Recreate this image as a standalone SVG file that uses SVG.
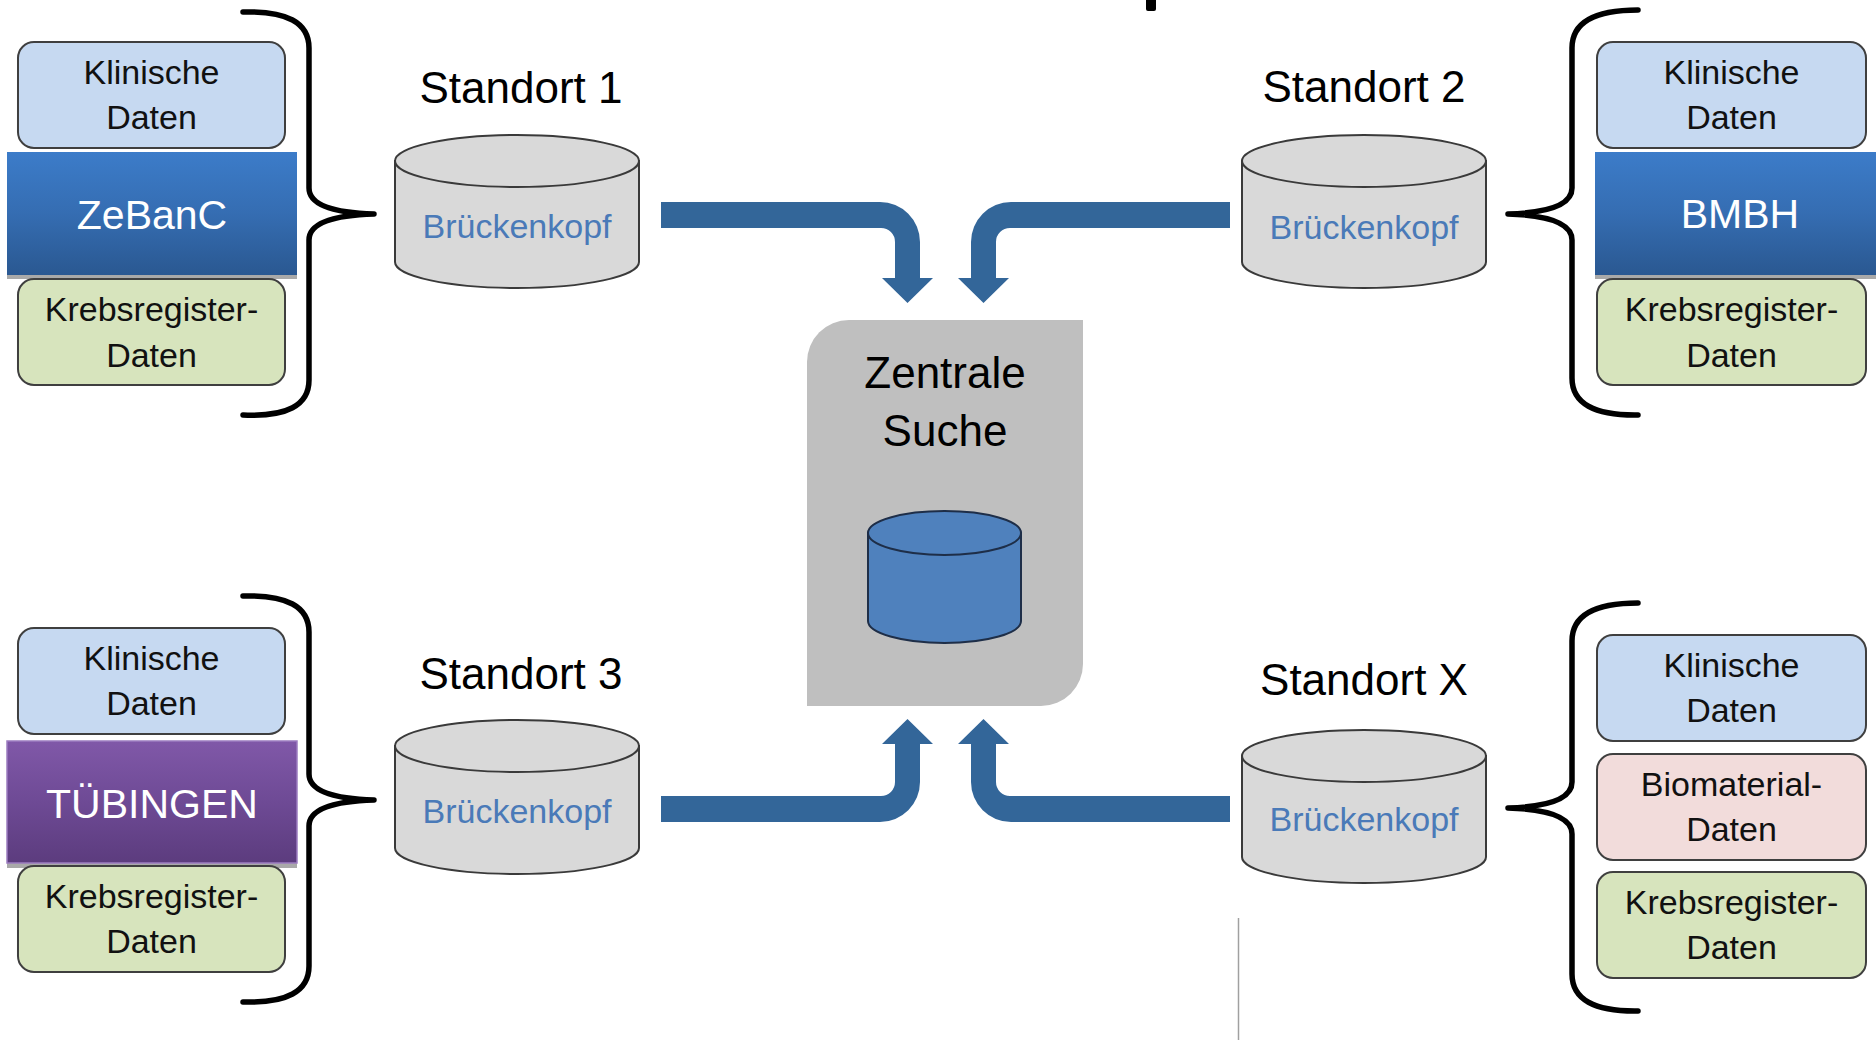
<svg xmlns="http://www.w3.org/2000/svg" width="1876" height="1040" viewBox="0 0 1876 1040">
<defs>
<linearGradient id="gBlue" x1="0" y1="0" x2="0" y2="1">
<stop offset="0" stop-color="#3c7cc9"/>
<stop offset="0.5" stop-color="#356db2"/>
<stop offset="1" stop-color="#2a5891"/>
</linearGradient>
<linearGradient id="gPurple" x1="0" y1="0" x2="0" y2="1">
<stop offset="0" stop-color="#8058a8"/>
<stop offset="0.5" stop-color="#6e4a95"/>
<stop offset="1" stop-color="#5c3c7e"/>
</linearGradient>
<style>
text{font-family:"Liberation Sans",Arial,sans-serif;text-anchor:middle}
.box{stroke:#3f3f3f;stroke-width:2}
.klin{fill:#c6d9f1}
.krebs{fill:#d7e4bd}
.bio{fill:#f2dcdb}
.lbl{font-size:34px;fill:#111}
.ban{font-size:41px;fill:#fff}
.site{font-size:44px;fill:#000}
.bk{font-size:34px;fill:#4a7ab8}
.cyl{fill:#d9d9d9;stroke:#3a3a3a;stroke-width:2}
.brace{fill:none;stroke:#000;stroke-width:5.5;stroke-linecap:round;stroke-linejoin:round}
.arrow{fill:#336699}
.shadow{fill:#a9a9a9}
</style>
</defs>
<rect width="1876" height="1040" fill="#fff"/>

<!-- top black mark -->
<rect x="1146" y="-4" width="10" height="15" rx="2" fill="#000"/>
<line x1="1238.5" y1="918" x2="1238.5" y2="1040" stroke="#a0a0a0" stroke-width="1.5"/>

<!-- Group ZeBanC -->
<g id="zebanc">
<rect class="box klin" x="18" y="42" width="267" height="106" rx="16"/>
<text class="lbl" x="151.5" y="84">Klinische</text>
<text class="lbl" x="151.5" y="129">Daten</text>
<rect class="shadow" x="7" y="155" width="290" height="124"/>
<rect x="7" y="152" width="290" height="123" fill="url(#gBlue)"/>
<text class="ban" x="152" y="229">ZeBanC</text>
<rect class="box krebs" x="18" y="279" width="267" height="106" rx="16"/>
<text class="lbl" x="151.5" y="321">Krebsregister-</text>
<text class="lbl" x="151.5" y="367">Daten</text>
<path class="brace" d="M243,12 Q309,10 309,48 L309,188 Q309,212 374,214 Q309,216 309,240 L309,380 Q309,418 243,415"/>
</g>

<!-- Group BMBH -->
<g id="bmbh">
<rect class="box klin" x="1597" y="42" width="269" height="106" rx="16"/>
<text class="lbl" x="1731.5" y="84">Klinische</text>
<text class="lbl" x="1731.5" y="129">Daten</text>
<rect class="shadow" x="1595" y="155" width="281" height="124"/>
<rect x="1595" y="152" width="281" height="123" fill="url(#gBlue)"/>
<text class="ban" x="1740" y="228">BMBH</text>
<rect class="box krebs" x="1597" y="279" width="269" height="106" rx="16"/>
<text class="lbl" x="1731.5" y="321">Krebsregister-</text>
<text class="lbl" x="1731.5" y="367">Daten</text>
<path class="brace" d="M1638,10 Q1572,10 1572,48 L1572,188 Q1572,212 1508,214 Q1572,216 1572,240 L1572,378 Q1572,416 1638,415"/>
</g>

<!-- Group Tuebingen -->
<g id="tuebingen">
<rect class="box klin" x="18" y="628" width="267" height="106" rx="16"/>
<text class="lbl" x="151.5" y="670">Klinische</text>
<text class="lbl" x="151.5" y="715">Daten</text>
<rect class="shadow" x="7" y="744" width="290" height="124"/>
<rect x="7" y="741" width="290" height="122" fill="url(#gPurple)" stroke="#9c7cc0" stroke-width="1.5"/>
<text class="ban" x="152" y="818">TÜBINGEN</text>
<rect class="box krebs" x="18" y="866" width="267" height="106" rx="16"/>
<text class="lbl" x="151.5" y="908">Krebsregister-</text>
<text class="lbl" x="151.5" y="953">Daten</text>
<path class="brace" d="M243,596 Q309,594 309,632 L309,774 Q309,798 374,800 Q309,802 309,826 L309,966 Q309,1004 243,1002"/>
</g>

<!-- Group Standort X data -->
<g id="standortx-data">
<rect class="box klin" x="1597" y="635" width="269" height="106" rx="16"/>
<text class="lbl" x="1731.5" y="677">Klinische</text>
<text class="lbl" x="1731.5" y="722">Daten</text>
<rect class="box bio" x="1597" y="754" width="269" height="106" rx="16"/>
<text class="lbl" x="1731.5" y="796">Biomaterial-</text>
<text class="lbl" x="1731.5" y="841">Daten</text>
<rect class="box krebs" x="1597" y="872" width="269" height="106" rx="16"/>
<text class="lbl" x="1731.5" y="914">Krebsregister-</text>
<text class="lbl" x="1731.5" y="959">Daten</text>
<path class="brace" d="M1638,603 Q1572,603 1572,641 L1572,782 Q1572,806 1508,808 Q1572,810 1572,834 L1572,974 Q1572,1012 1638,1011"/>
</g>

<!-- Standort 1 -->
<g id="standort1">
<text class="site" x="521" y="103">Standort 1</text>
<path class="cyl" d="M395,161 V262 A122,26 0 0 0 639,262 V161 Z"/>
<ellipse class="cyl" cx="517" cy="161" rx="122" ry="26"/>
<text class="bk" x="517" y="238">Brückenkopf</text>
</g>

<!-- Standort 2 -->
<g id="standort2">
<text class="site" x="1364" y="102">Standort 2</text>
<path class="cyl" d="M1242,161 V262 A122,26 0 0 0 1486,262 V161 Z"/>
<ellipse class="cyl" cx="1364" cy="161" rx="122" ry="26"/>
<text class="bk" x="1364" y="239">Brückenkopf</text>
</g>

<!-- Standort 3 -->
<g id="standort3">
<text class="site" x="521" y="689">Standort 3</text>
<path class="cyl" d="M395,746 V848 A122,26 0 0 0 639,848 V746 Z"/>
<ellipse class="cyl" cx="517" cy="746" rx="122" ry="26"/>
<text class="bk" x="517" y="823">Brückenkopf</text>
</g>

<!-- Standort X -->
<g id="standortx">
<text class="site" x="1364" y="695">Standort X</text>
<path class="cyl" d="M1242,756 V857 A122,26 0 0 0 1486,857 V756 Z"/>
<ellipse class="cyl" cx="1364" cy="756" rx="122" ry="26"/>
<text class="bk" x="1364" y="831">Brückenkopf</text>
</g>

<!-- Zentrale Suche -->
<g id="zentrale">
<path d="M849,320 H1083 V664 A42,42 0 0 1 1041,706 H807 V362 A42,42 0 0 1 849,320 Z" fill="#bfbfbf"/>
<text x="945" y="388" font-size="44" fill="#000">Zentrale</text>
<text x="945" y="446" font-size="44" fill="#000">Suche</text>
<path d="M868,533 V621 A76.5,22 0 0 0 1021,621 V533 Z" fill="#4f81bd" stroke="#1e2e48" stroke-width="2"/>
<ellipse cx="944.5" cy="533" rx="76.5" ry="22" fill="#4f81bd" stroke="#1e2e48" stroke-width="2"/>
</g>

<!-- Connectors -->
<g id="connectors">
<path class="arrow" d="M661,202 H880 A40,40 0 0 1 920,242 V278 H933 L907.5,303 L882,278 H895 V242 A14,14 0 0 0 881,228 H661 Z"/>
<path class="arrow" d="M1230,202 H1011 A40,40 0 0 0 971,242 V278 H958 L983.5,303 L1009,278 H996 V242 A14,14 0 0 1 1010,228 H1230 Z"/>
<path class="arrow" d="M661,822 H880 A40,40 0 0 0 920,782 V744 H933 L907.5,719 L882,744 H895 V782 A14,14 0 0 1 881,796 H661 Z"/>
<path class="arrow" d="M1230,822 H1011 A40,40 0 0 1 971,782 V744 H958 L983.5,719 L1009,744 H996 V782 A14,14 0 0 0 1010,796 H1230 Z"/>
</g>
</svg>
